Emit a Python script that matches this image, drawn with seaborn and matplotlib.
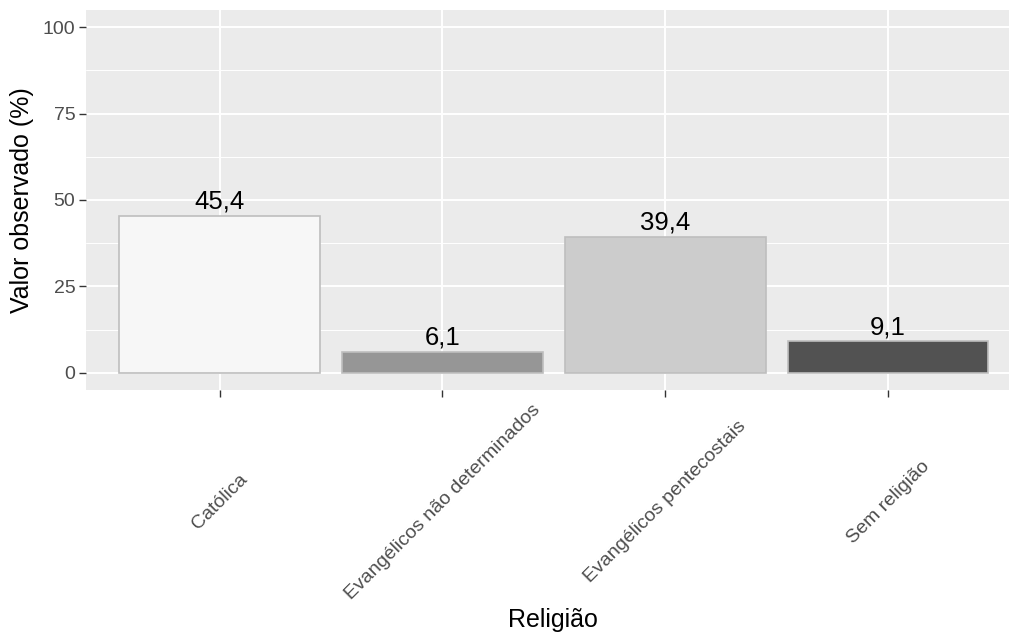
import pandas as pd
import matplotlib.pyplot as plt
import seaborn as sns

# data
religioes = ["Católica", "Evangélicos não determinados", "Evangélicos pentecostais", "Sem religião"]
valores = [45.4, 6.1, 39.4, 9.1]
cores = ["#F7F7F7", "#969696", "#CCCCCC", "#525252"]
y_ticks = [0, 25, 50, 75, 100]

df = pd.DataFrame({"Religião": religioes, "Valor": valores})

sns.set_theme(style="darkgrid", rc={
    "axes.facecolor": "#EBEBEB",
    "grid.color": "white",
})
plt.rcParams["font.family"] = ["Liberation Sans", "DejaVu Sans"]

fig = plt.figure(figsize=(10.09, 6.33), dpi=100)
ax = fig.add_axes([86 / 1009, 1 - 390 / 633, 1 - 86 / 1009, 380 / 633])

sns.barplot(data=df, x="Religião", y="Valor", hue="Religião", palette=cores,
            legend=False, width=0.9, edgecolor="#BEBEBE", linewidth=1.2,
            saturation=1, ax=ax, zorder=3)

for cont in ax.containers:
    ax.bar_label(cont, labels=[f"{v:.1f}".replace(".", ",") for v in cont.datavalues],
                 padding=1.5, fontsize=18.5, color="black")

ax.set_ylim(-5, 105)
ax.set_xlim(-0.6, (1009 - 219) / 223)
ax.set_yticks(y_ticks)
ax.set_yticks([12.5, 37.5, 62.5, 87.5], minor=True)
ax.grid(which="major", color="white", linewidth=1.4)
ax.grid(which="minor", axis="y", color="white", linewidth=0.7)
ax.set_axisbelow(True)
for s in ax.spines.values():
    s.set_visible(False)

ax.tick_params(axis="both", which="major", length=4.7, width=1, color="#333333",
               labelcolor="#4D4D4D", labelsize=14, bottom=True, left=True)
ax.tick_params(axis="y", which="minor", length=0, left=False)
ax.tick_params(axis="y", pad=3)
ax.tick_params(axis="x", pad=76)
plt.setp(ax.get_xticklabels(), rotation=45, rotation_mode="anchor", ha="center", va="center")

ax.set_xlabel("Religião", fontsize=18, color="black", va="center")
ax.set_ylabel("Valor observado (%)", fontsize=18, color="black", va="center")
ax.xaxis.set_label_coords((553 - 86) / 923, (390 - 620) / 380)
ax.yaxis.set_label_coords(-(86 - 22) / 923, 0.5)

fig.savefig("out.png", dpi=100)
